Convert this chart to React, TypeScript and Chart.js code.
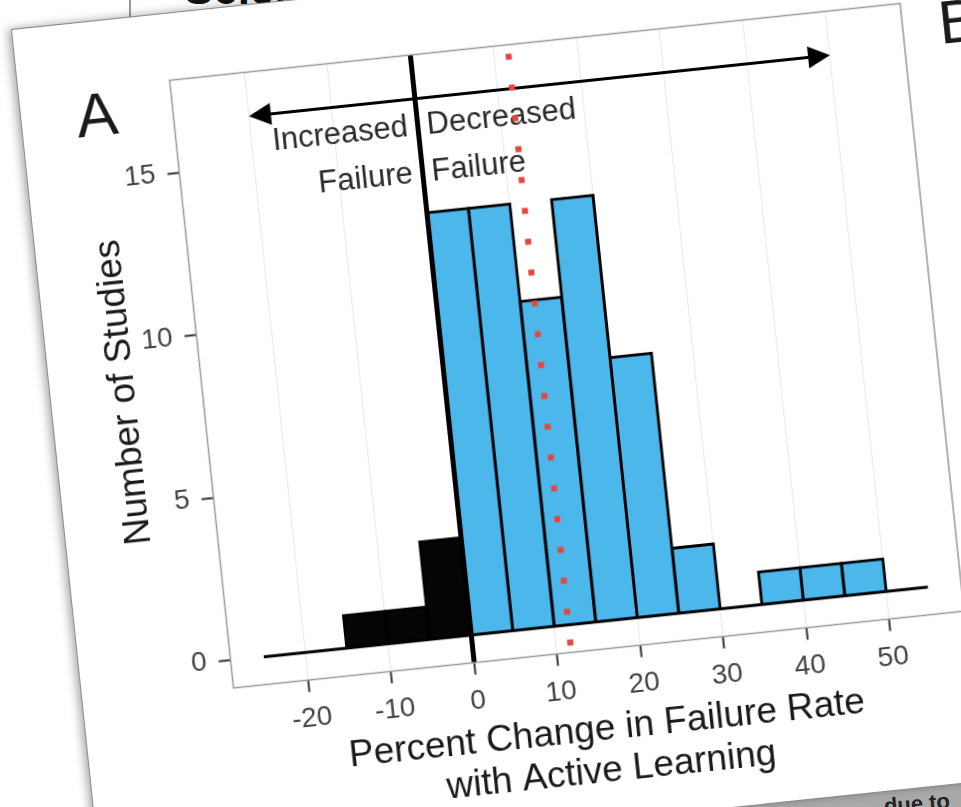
import React, { useEffect, useRef } from 'react';
import { Chart, registerables } from 'chart.js';

Chart.register(...registerables);

// ---- data ----
const binStarts = [-15, -10, -5, 0, 5, 10, 15, 20, 25, 30, 35, 40, 45];
const binWidth = 5;
const studyCounts = [1, 1, 3, 13, 13, 10, 13, 8, 2, 0, 1, 1, 1];
const xTickValues = [-20, -10, 0, 10, 20, 30, 40, 50];
const yTickValues = [0, 5, 10, 15];
const xRange = [-29, 59];
const yRange = [-0.85, 17.85];
const baselineSpan = [-25, 55];
const noChangeX = 0;
const meanChangeX = 11.7;
const arrowY = 16.5;
const arrowEnds = [-20, 50];
const leftLabelLines = ['Increased', 'Failure'];
const rightLabelLines = ['Decreased', 'Failure'];
const labelLineY = [15.65, 14.2];
const xTitleLines = ['Percent Change in Failure Rate', 'with Active Learning'];
const yTitle = 'Number of Studies';
const panelLetter = 'A';
const nextPanelLetter = 'B';

// ---- style / layout ----
const FONT = '"Liberation Sans", Arial, Helvetica, sans-serif';
const W = 1000;
const H = 848;
const PANEL_LEFT = 151.5;
const PANEL_TOP = 66.5;
const PANEL_RIGHT = 886;
const PANEL_BOTTOM = 677.5;
const BLUE = '#4bb7eb';
const BLACK = '#050505';

const annotationPlugin = {
  id: 'failureAnnotations',
  afterDatasetsDraw(chart: any) {
    const { ctx, chartArea: ca, scales } = chart;
    const x = scales.x;
    const y = scales.y;
    ctx.save();
    // baseline at 0 studies
    const y0 = y.getPixelForValue(0);
    ctx.beginPath();
    ctx.strokeStyle = '#000';
    ctx.lineWidth = 3;
    ctx.moveTo(x.getPixelForValue(baselineSpan[0]), y0);
    ctx.lineTo(x.getPixelForValue(baselineSpan[1]), y0);
    ctx.stroke();

    // no-change vertical line
    const zx = x.getPixelForValue(noChangeX);
    ctx.beginPath();
    ctx.lineWidth = 5;
    ctx.moveTo(zx, ca.top);
    ctx.lineTo(zx, ca.bottom);
    ctx.stroke();

    // arrows
    const ay = y.getPixelForValue(arrowY);
    ctx.fillStyle = '#000';
    for (const end of arrowEnds) {
      const ex = x.getPixelForValue(end);
      const dir = Math.sign(ex - zx);
      ctx.beginPath();
      ctx.lineWidth = 3;
      ctx.moveTo(zx, ay);
      ctx.lineTo(ex - dir * 12, ay);
      ctx.stroke();
      ctx.beginPath();
      ctx.moveTo(ex, ay);
      ctx.lineTo(ex - dir * 22, ay - 11);
      ctx.lineTo(ex - dir * 22, ay + 11);
      ctx.closePath();
      ctx.fill();
    }

    // labels
    ctx.font = `31px ${FONT}`;
    ctx.fillStyle = '#2a2a2a';
    ctx.textBaseline = 'middle';
    ctx.textAlign = 'right';
    leftLabelLines.forEach((t, i) => ctx.fillText(t, zx - 10, y.getPixelForValue(labelLineY[i])));
    ctx.textAlign = 'left';
    rightLabelLines.forEach((t, i) => ctx.fillText(t, zx + 9, y.getPixelForValue(labelLineY[i])));

    // mean dotted red line
    const mx = x.getPixelForValue(meanChangeX);
    ctx.beginPath();
    ctx.setLineDash([6, 25]);
    ctx.lineWidth = 6;
    ctx.strokeStyle = '#e8453c';
    ctx.moveTo(mx, ca.top + 9);
    ctx.lineTo(mx, ca.bottom);
    ctx.stroke();
    ctx.setLineDash([]);
    ctx.restore();
  },
  afterDraw(chart: any) {
    const { ctx, chartArea: ca } = chart;
    ctx.save();
    ctx.strokeStyle = '#9a9a9a';
    ctx.lineWidth = 1.5;
    ctx.strokeRect(ca.left, ca.top, ca.right - ca.left, ca.bottom - ca.top);
    ctx.fillStyle = '#1a1a1a';
    ctx.font = `62px ${FONT}`;
    ctx.textBaseline = 'alphabetic';
    ctx.textAlign = 'center';
    ctx.fillText(panelLetter, 75.5, 113.5);
    ctx.textAlign = 'left';
    ctx.fillText(nextPanelLetter, 922, 111);
    ctx.restore();
  },
};

function HistogramChart() {
  const ref = useRef<HTMLCanvasElement | null>(null);
  useEffect(() => {
    if (!ref.current) return;
    const points = binStarts.map((s, i) => ({ x: s + binWidth / 2, y: studyCounts[i] }));
    const colors = binStarts.map((s) => (s < noChangeX ? BLACK : BLUE));
    const chart = new Chart(ref.current, {
      type: 'bar',
      data: {
        datasets: [
          {
            data: points as any,
            backgroundColor: colors,
            borderColor: '#000',
            borderWidth: { top: 3, left: 3, right: 3, bottom: 0 } as any,
            inflateAmount: 1.5,
            barPercentage: 1,
            categoryPercentage: 1,
          } as any,
        ],
      },
      options: {
        responsive: false,
        animation: false,
        devicePixelRatio: 1,
        layout: { padding: { left: 0, top: PANEL_TOP, right: W - PANEL_RIGHT, bottom: 0 } },
        plugins: { legend: { display: false }, tooltip: { enabled: false } },
        scales: {
          x: {
            type: 'linear',
            min: xRange[0],
            max: xRange[1],
            offset: false,
            afterBuildTicks: (s: any) => {
              s.ticks = xTickValues.map((v) => ({ value: v }));
            },
            afterFit: (s: any) => {
              s.height = H - PANEL_BOTTOM;
            },
            grid: { color: '#ebebeb', lineWidth: 1.2, offset: false, tickColor: '#333', tickWidth: 2, tickLength: 12 },
            border: { display: false },
            ticks: {
              font: { family: FONT, size: 28 },
              color: '#444',
              padding: 10,
              maxRotation: 0,
              autoSkip: false,
              callback: (v: any) => String(v),
            },
            title: {
              display: true,
              text: xTitleLines,
              font: { family: FONT, size: 37, lineHeight: 1.135 },
              color: '#1a1a1a',
              padding: { top: 0, bottom: 27 },
            },
          } as any,
          y: {
            type: 'linear',
            min: yRange[0],
            max: yRange[1],
            afterBuildTicks: (s: any) => {
              s.ticks = yTickValues.map((v) => ({ value: v }));
            },
            afterFit: (s: any) => {
              s.width = PANEL_LEFT;
            },
            grid: { drawOnChartArea: false, tickColor: '#333', tickWidth: 2, tickLength: 12 },
            border: { display: false },
            ticks: {
              font: { family: FONT, size: 28 },
              color: '#444',
              padding: 12,
              callback: (v: any) => String(v),
            },
            title: {
              display: true,
              text: yTitle,
              font: { family: FONT, size: 37, lineHeight: 1.135 },
              color: '#1a1a1a',
              padding: { top: 53, bottom: 0 },
            },
          } as any,
        },
      },
      plugins: [annotationPlugin],
    });
    return () => chart.destroy();
  }, []);
  return <canvas ref={ref} width={W} height={H} style={{ width: W, height: H, display: 'block' }} />;
}

export default function App() {
  return (
    <div
      style={{
        position: 'fixed',
        left: 0,
        top: 0,
        width: 961,
        height: 807,
        overflow: 'hidden',
        background: '#fff',
        fontFamily: FONT,
      }}
    >
      {/* page behind, top */}
      <div style={{ position: 'absolute', left: 129, top: 0, width: 1.5, height: 30, background: '#999' }} />
      <div
        style={{
          position: 'absolute',
          left: 184,
          top: -33,
          fontSize: 44,
          fontWeight: 'bold',
          color: '#111',
          lineHeight: 1,
          whiteSpace: 'nowrap',
        }}
      >
        Science
      </div>
      {/* grey area behind, bottom right */}
      <div style={{ position: 'absolute', left: 380, top: 760, width: 620, height: 80, background: '#a9a9a9' }} />
      <div
        style={{
          position: 'absolute',
          left: 884,
          top: 793,
          fontSize: 22,
          fontWeight: 'bold',
          color: '#222',
          lineHeight: 1,
          whiteSpace: 'nowrap',
          transform: 'rotate(-5deg)',
        }}
      >
        due to
      </div>
      {/* the photographed card */}
      <div
        style={{
          position: 'absolute',
          left: 12,
          top: 30,
          width: W,
          height: H,
          background: '#fff',
          transform: 'rotate(-6deg)',
          transformOrigin: '0 0',
          boxShadow: '0 0 0 1px #8c8c8c, -4px -1px 10px rgba(0,0,0,0.35)',
        }}
      >
        <HistogramChart />
      </div>
    </div>
  );
}
